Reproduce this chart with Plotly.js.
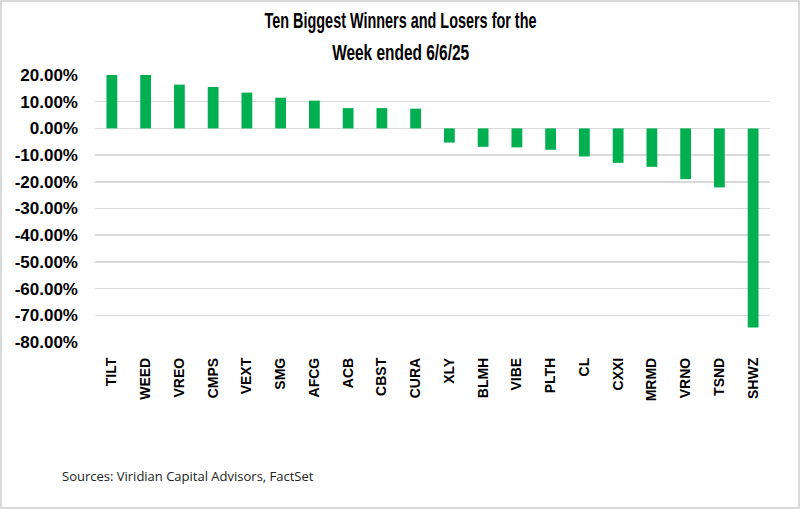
<!DOCTYPE html>
<html>
<head>
<meta charset="utf-8">
<script src="https://cdn.plot.ly/plotly-3.0.1.min.js"></script>
<style>
  html, body { margin: 0; padding: 0; background: #ffffff; }
  #frame { width: 796px; height: 505px; border: 2px solid #d9d9d9; background: #ffffff; }
  #chart { width: 796px; height: 505px; }
</style>
</head>
<body>
<div id="frame"><div id="chart"></div></div>
<script>
const tickers = ["TILT","WEED","VREO","CMPS","VEXT","SMG","AFCG","ACB","CBST","CURA",
                 "XLY","BLMH","VIBE","PLTH","CL","CXXI","MRMD","VRNO","TSND","SHWZ"];
const weeklyReturns = [0.202, 0.202, 0.164, 0.155, 0.134, 0.115, 0.104, 0.076, 0.076, 0.074,
                       -0.053, -0.069, -0.071, -0.080, -0.105, -0.129, -0.144, -0.190, -0.221, -0.746];
const yTickVals = [0.2, 0.1, 0, -0.1, -0.2, -0.3, -0.4, -0.5, -0.6, -0.7, -0.8];
const yTickText = ["20.00%","10.00%","0.00%","-10.00%","-20.00%","-30.00%","-40.00%","-50.00%","-60.00%","-70.00%","-80.00%"];
const titleLines = ["Ten Biggest Winners and Losers for the", "Week ended 6/6/25"];
const titleWidths = [272, 137];
const sourceText = "Sources: Viridian Capital Advisors, FactSet";

const titleFont = { family: "Liberation Sans, Arial, sans-serif", size: 22, color: "#000000", weight: "bold" };

const trace = {
  type: "bar",
  x: tickers,
  y: weeklyReturns,
  marker: { color: "#00B050" },
  cliponaxis: false,
  hoverinfo: "x+y"
};

const layout = {
  width: 796,
  height: 505,
  margin: { l: 93, r: 28, t: 73, b: 165 },
  paper_bgcolor: "#ffffff",
  plot_bgcolor: "#ffffff",
  showlegend: false,
  bargap: 0.68,
  xaxis: {
    type: "category",
    tickangle: -90,
    tickfont: { family: "Liberation Sans, Arial, sans-serif", size: 14, color: "#000000", weight: "bold" },
    showgrid: false,
    showline: false,
    ticks: "",
    ticklabelstandoff: 12,
    automargin: false
  },
  yaxis: {
    range: [-0.8, 0.2],
    tickvals: yTickVals,
    ticktext: yTickText,
    tickfont: { family: "Liberation Sans, Arial, sans-serif", size: 17, color: "#000000", weight: "bold" },
    showgrid: true,
    gridcolor: "#d9d9d9",
    gridwidth: 1.5,
    zeroline: true,
    zerolinecolor: "#d9d9d9",
    zerolinewidth: 1.5,
    showline: false,
    ticks: "",
    ticklabelstandoff: 16,
    automargin: false
  },
  annotations: [
    {
      text: titleLines[0],
      xref: "paper", yref: "paper",
      x: 0.5 + (400 - 2 - 93 - 337.5) / 675, xanchor: "center",
      y: 1.205, yanchor: "middle",
      showarrow: false,
      font: titleFont
    },
    {
      text: titleLines[1],
      xref: "paper", yref: "paper",
      x: 0.5 + (400 - 2 - 93 - 337.5) / 675, xanchor: "center",
      y: 1.083, yanchor: "middle",
      showarrow: false,
      font: titleFont
    },
    {
      text: sourceText,
      xref: "paper", yref: "paper",
      x: -0.052, xanchor: "left",
      y: -0.502, yanchor: "middle",
      showarrow: false,
      font: { family: "Open Sans, Noto Sans, sans-serif", size: 13, color: "#222222" }
    }
  ]
};

Plotly.newPlot("chart", [trace], layout, { displayModeBar: false, staticPlot: true }).then(function (gd) {
  // Condense the title lines horizontally to mimic the narrow title face.
  const texts = gd.querySelectorAll(".annotation-text");
  texts.forEach(function (t) {
    const idx = titleLines.indexOf(t.textContent);
    if (idx >= 0) {
      t.setAttribute("textLength", titleWidths[idx]);
      t.setAttribute("lengthAdjust", "spacingAndGlyphs");
    }
  });
});
</script>
</body>
</html>
